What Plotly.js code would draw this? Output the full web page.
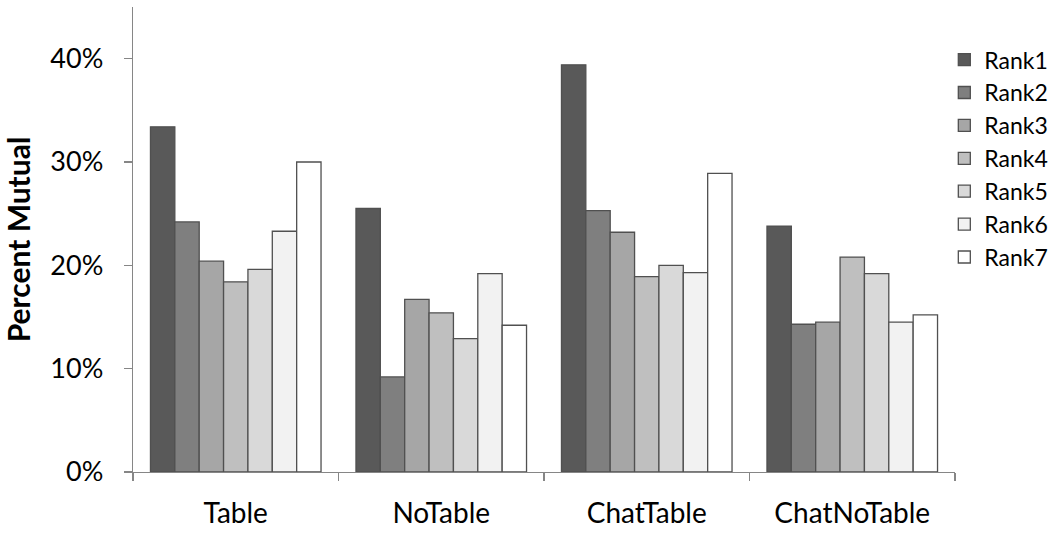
<!DOCTYPE html>
<html>
<head>
<meta charset="utf-8">
<script src="https://cdn.plot.ly/plotly-3.0.1.min.js"></script>
<style>
  html, body { margin: 0; padding: 0; background: #ffffff; }
  #chart { width: 1062px; height: 536px; }
</style>
</head>
<body>
<div id="chart"></div>
<script>
// Conditions on the x axis
const conditions = ["Table", "NoTable", "ChatTable", "ChatNoTable"];

// Share of mutual choices for each rank, per condition
const rank1 = [0.334, 0.255, 0.394, 0.238];
const rank2 = [0.242, 0.092, 0.253, 0.143];
const rank3 = [0.204, 0.167, 0.232, 0.145];
const rank4 = [0.184, 0.154, 0.189, 0.208];
const rank5 = [0.196, 0.129, 0.200, 0.192];
const rank6 = [0.233, 0.192, 0.193, 0.145];
const rank7 = [0.300, 0.142, 0.289, 0.152];

const rankNames = ["Rank1", "Rank2", "Rank3", "Rank4", "Rank5", "Rank6", "Rank7"];
const rankValues = [rank1, rank2, rank3, rank4, rank5, rank6, rank7];
const rankFills = ["#595959", "#7f7f7f", "#a6a6a6", "#bfbfbf", "#d9d9d9", "#f2f2f2", "#ffffff"];

const traces = rankNames.map((name, i) => ({
  type: "bar",
  name: name,
  x: conditions,
  y: rankValues[i],
  marker: {
    color: rankFills[i],
    line: { color: "#505050", width: 1.3 }
  },
  hoverinfo: "x+y+name"
}));

const font = "Lato, Open Sans, sans-serif";

const layout = {
  width: 1062,
  height: 536,
  margin: { l: 133, r: 107, t: 7, b: 64 },
  paper_bgcolor: "#ffffff",
  plot_bgcolor: "#ffffff",
  barmode: "group",
  bargap: 0.17,
  bargroupgap: 0,
  showlegend: true,
  font: { family: font, color: "#000000", size: 28 },
  xaxis: {
    type: "category",
    showline: true,
    linecolor: "#868686",
    linewidth: 1.3,
    ticks: "outside",
    tickson: "boundaries",
    ticklen: 8,
    tickcolor: "#868686",
    tickwidth: 1.3,
    showgrid: false,
    zeroline: false,
    ticklabelstandoff: 16,
    tickfont: { family: font, size: 28, color: "#000000" },
    fixedrange: true
  },
  yaxis: {
    range: [0, 0.45],
    tickvals: [0, 0.1, 0.2, 0.3, 0.4],
    tickformat: ".0%",
    showline: true,
    linecolor: "#868686",
    linewidth: 1.3,
    ticks: "outside",
    ticklen: 8,
    tickcolor: "#868686",
    tickwidth: 1.3,
    showgrid: false,
    zeroline: false,
    ticklabelstandoff: 15,
    tickfont: { family: font, size: 27, color: "#000000" },
    title: {
      text: "<b>Percent Mutual</b>",
      font: { family: font, size: 30, color: "#000000" },
      standoff: 16
    },
    fixedrange: true
  },
  legend: {
    x: 0.987,
    xanchor: "left",
    y: 0.933,
    yanchor: "top",
    font: { family: font, size: 23, color: "#000000" },
    itemwidth: 30,
    traceorder: "normal",
    bgcolor: "rgba(0,0,0,0)"
  }
};

Plotly.newPlot("chart", traces, layout, { displayModeBar: false, staticPlot: true });
</script>
</body>
</html>
